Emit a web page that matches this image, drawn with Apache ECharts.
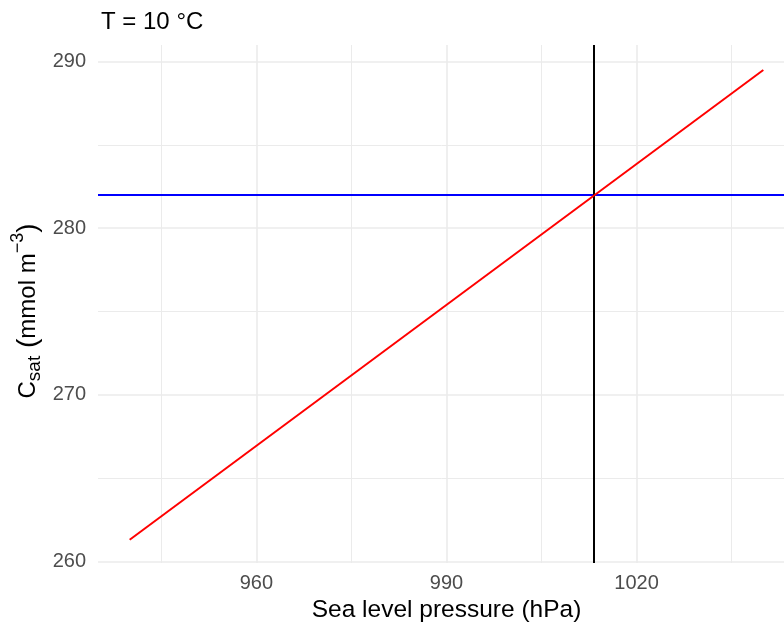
<!DOCTYPE html>
<html>
<head>
<meta charset="utf-8">
<script src="https://cdn.jsdelivr.net/npm/echarts@6/dist/echarts.min.js"></script>
<style>
html,body{margin:0;padding:0;background:#fff;}
#c{width:784px;height:625px;}
</style>
</head>
<body>
<div id="c"></div>
<script>
// ---- data ----
const pressure = [940, 1040];          // hPa
const csat = [261.3, 289.5];           // mmol m^-3
const refPressure = 1013.25;           // vertical reference line
const refCsat = 282.0;                 // horizontal reference line
const xTicks = [960, 990, 1020];
const xMinor = [945, 975, 1005, 1035];
const yTicks = [260, 270, 280, 290];
const yMinor = [265, 275, 285];

const FONT = '"Liberation Sans", Arial, sans-serif';
const grid = '#ebebeb';

const gridLines = [];
xTicks.forEach(v => gridLines.push({xAxis: v, lineStyle: {color: grid, width: 1.6, type: 'solid'}}));
xMinor.forEach(v => gridLines.push({xAxis: v, lineStyle: {color: grid, width: 1.0, type: 'solid'}}));
yTicks.forEach(v => gridLines.push({yAxis: v, lineStyle: {color: grid, width: 1.6, type: 'solid'}}));
yMinor.forEach(v => gridLines.push({yAxis: v, lineStyle: {color: grid, width: 1.0, type: 'solid'}}));

const chart = echarts.init(document.getElementById('c'), null, {renderer: 'canvas'});
chart.setOption({
  animation: false,
  backgroundColor: '#ffffff',
  title: {
    text: 'T = 10 °C',
    left: 96, top: 5,
    textStyle: {fontFamily: FONT, fontSize: 24, fontWeight: 'normal', color: '#000'}
  },
  grid: {left: 98, right: -11, top: 45, bottom: 62, containLabel: false, outerBoundsMode: 'none'},
  xAxis: {
    type: 'value', min: 935, max: 1045,
    axisLine: {show: false}, axisTick: {show: false}, splitLine: {show: false},
    axisLabel: {customValues: xTicks, formatter: v => String(v), fontFamily: FONT, fontSize: 20, color: '#4d4d4d', margin: 10},
    name: 'Sea level pressure (hPa)', nameLocation: 'middle', nameGap: 34,
    nameTextStyle: {fontFamily: FONT, fontSize: 24.5, color: '#000'}
  },
  yAxis: {
    type: 'value', min: 259.9, max: 291.0,
    axisLine: {show: false}, axisTick: {show: false}, splitLine: {show: false},
    axisLabel: {customValues: yTicks, formatter: v => String(v), fontFamily: FONT, fontSize: 20, color: '#4d4d4d', margin: 12},
    name: '{n|C}{sub|sat}{p| (}{n|mmol m}{sup|−3}{p|)}',
    nameLocation: 'middle', nameGap: 51, nameRotate: 90, nameMoveOverlap: false,
    nameTextStyle: {
      fontFamily: FONT, fontSize: 24, color: '#000',
      padding: [0, 14, 0, 0],
      rich: {
        n: {fontFamily: FONT, fontSize: 24, color: '#000', lineHeight: 38, verticalAlign: 'middle'},
        p: {fontFamily: FONT, fontSize: 28, color: '#000', lineHeight: 38, verticalAlign: 'middle'},
        sub: {fontFamily: FONT, fontSize: 19, color: '#000', lineHeight: 38, verticalAlign: 'bottom', padding: [0,0,3,0]},
        sup: {fontFamily: FONT, fontSize: 18, color: '#000', lineHeight: 38, verticalAlign: 'top', padding: [0,0,0,0]}
      }
    }
  },
  series: [
    {
      type: 'line', data: [], z: 1, silent: true,
      markLine: {silent: true, symbol: 'none', label: {show: false}, animation: false, data: gridLines}
    },
    {
      type: 'line', data: [], z: 3, silent: true,
      markLine: {silent: true, symbol: 'none', label: {show: false}, animation: false,
        data: [
          {yAxis: refCsat, lineStyle: {color: '#0000ff', width: 1.8, type: 'solid'}},
          {xAxis: refPressure, lineStyle: {color: '#000000', width: 2, type: 'solid'}}
        ]}
    },
    {
      type: 'line', z: 5, showSymbol: false, symbol: 'none',
      data: pressure.map((p, i) => [p, csat[i]]),
      lineStyle: {color: '#ff0000', width: 2}
    }
  ]
});
</script>
</body>
</html>
